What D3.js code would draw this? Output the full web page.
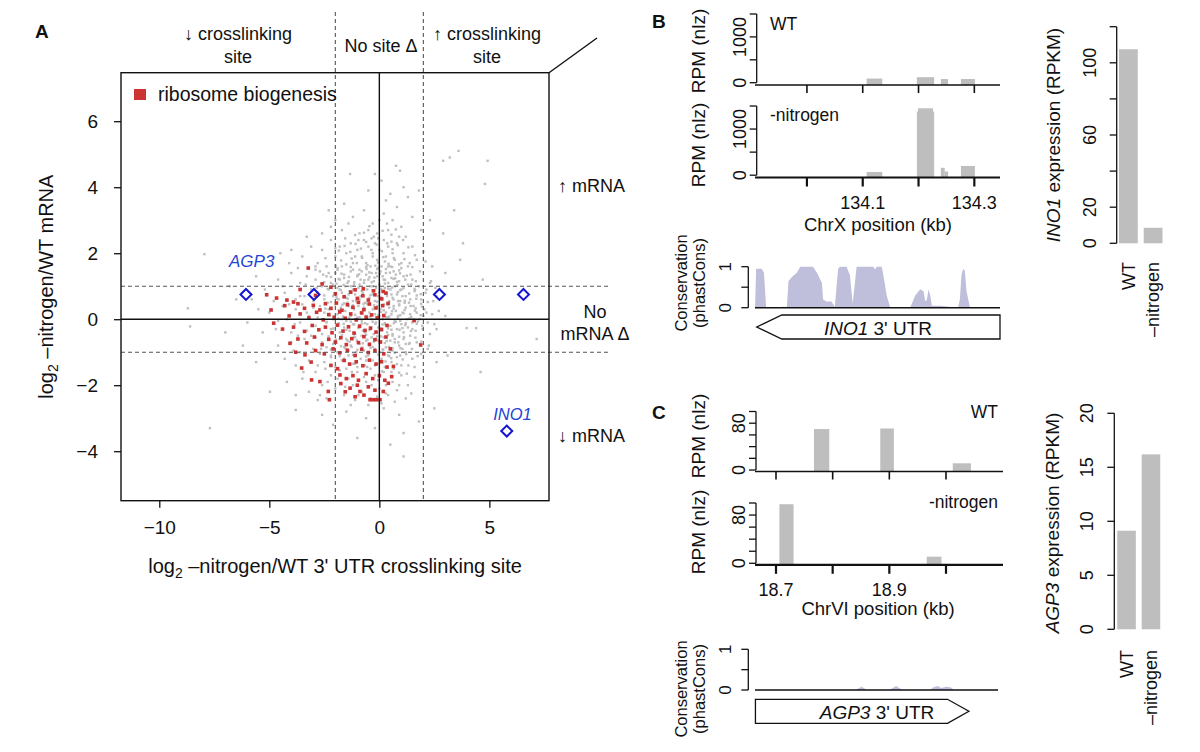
<!DOCTYPE html>
<html><head><meta charset="utf-8">
<script src="https://cdn.jsdelivr.net/npm/d3@7"></script>
<style>
body{margin:0;background:#fff}
svg{display:block}
text{font-family:"Liberation Sans",Arial,Helvetica,sans-serif;fill:#111}
</style>
</head><body>
<svg id="c" width="1200" height="752"></svg>
<script>
// ---------------- DATA ----------------
// Panel A: log2 -nitrogen/WT 3'UTR crosslinking site (x) vs log2 -nitrogen/WT mRNA (y)
const grayPoints = [
[0.76,4.65],[0.94,4.5],[-1.33,4.4],[2.9,4.8],[3.2,4.9],[3.6,5.1],[4.92,4.8],[4.8,4.1],[0.1,4.2],[-0.5,3.9],[0.5,3.8],[1.3,3.7],[-1.6,3.5],[0.3,3.6],[1.8,3.9],[-0.2,4.4],[3.4,3.3],[-2.3,3.3],[1.1,4.0],
[-2.0,3.0],[-1.2,3.1],[-0.7,3.3],[-0.3,2.9],[0.2,3.2],[0.6,3.0],[1.0,2.8],[1.5,3.1],[-1.7,2.7],[-0.9,2.6],[-0.1,2.6],[0.4,2.7],[0.8,3.4],[1.9,2.7],[2.9,2.6],[-2.6,2.6],[-3.3,2.5],[-1.4,2.9],[0.0,3.0],[-0.5,2.7],[1.2,2.5],[2.3,3.0],[-2.2,2.8],
[-3.5,1.9],[-3.1,2.2],[-2.8,1.7],[-2.6,2.1],[-2.4,1.6],[-2.2,2.4],[-2.0,1.9],[-1.8,2.2],[-1.7,1.6],[-1.5,2.0],[-1.3,2.3],[-1.2,1.7],[-1.0,2.1],[-0.9,1.5],[-0.8,1.9],[-0.7,2.4],[-0.6,1.7],[-0.5,2.2],[-0.4,1.6],[-0.3,2.0],[-0.2,2.3],[-0.1,1.8],[0.0,2.1],[0.1,1.6],[0.2,2.4],[0.3,1.9],[0.4,2.2],[0.5,1.6],[0.6,2.0],[0.7,1.8],[0.8,2.3],[1.0,1.7],[1.1,2.0],[1.3,1.6],[1.5,2.2],[1.7,1.8],[2.1,1.75],[2.4,1.6],[3.67,1.8],[3.8,2.3],[-4.1,1.7],[-1.9,1.5],[-1.1,1.9],[-0.35,2.45],[0.25,1.75],[0.9,2.5],[-2.9,1.5],[-0.05,1.55],[0.55,2.35],[-1.55,2.45],[-4.5,2.0],[-7.95,1.97],
[-4.6,1.2],[-4.3,0.8],[-4.0,1.4],[-3.8,0.6],[-3.6,1.1],[-3.4,0.7],[-3.3,1.3],[-3.1,0.9],[-3.0,0.55],[-2.9,1.2],[-2.8,0.8],[-2.7,1.45],[-2.6,1.0],[-2.5,0.6],[-2.4,1.3],[-2.3,0.9],[-2.2,1.1],[-2.1,0.7],[-2.0,1.4],[-1.9,0.95],[-1.85,0.6],[-1.8,1.2],[-1.7,0.8],[-1.6,1.35],[-1.55,1.0],[-1.5,0.65],[-1.4,1.15],[-1.35,0.85],[-1.3,1.45],[-1.2,0.55],[-1.15,1.05],[-1.1,0.75],[-1.0,1.3],[-0.95,0.95],[-0.9,0.6],[-0.85,1.2],[-0.8,1.45],[-0.75,0.8],[-0.7,1.1],[-0.65,0.5],[-0.6,1.35],[-0.55,0.9],[-0.5,1.2],[-0.45,0.65],[-0.4,1.0],[-0.35,1.4],[-0.3,0.75],[-0.25,1.15],[-0.2,0.55],[-0.15,0.95],[-0.1,1.3],[-0.05,0.7],[0.0,1.05],[0.05,1.45],[0.1,0.85],[0.15,0.6],[0.2,1.2],[0.25,0.95],[0.3,1.4],[0.35,0.7],[0.4,1.1],[0.45,0.55],[0.5,0.9],[0.55,1.25],[0.6,0.65],[0.7,1.0],[0.75,1.35],[0.8,0.75],[0.9,1.15],[0.95,0.55],[1.0,0.9],[1.1,1.3],[1.2,0.7],[1.3,1.05],[1.4,0.6],[1.5,1.2],[1.6,0.85],[1.8,1.0],[1.9,0.6],[2.1,0.8],[2.3,1.1],[2.6,0.7],[3.0,1.4],[4.7,1.2],[-5.2,0.9],[-5.6,1.3],[-6.5,0.6],[-0.15,1.4],[-1.45,0.5],[0.65,1.45],[-2.35,0.5],[1.15,0.5],
[-5.0,0.2],[-4.7,-0.3],[-4.4,0.4],[-4.2,0.0],[-4.0,-0.4],[-3.8,0.3],[-3.6,-0.1],[-3.5,0.45],[-3.3,-0.35],[-3.2,0.1],[-3.0,0.35],[-2.9,-0.2],[-2.8,0.05],[-2.7,0.4],[-2.6,-0.45],[-2.5,0.2],[-2.4,-0.1],[-2.3,0.3],[-2.2,-0.3],[-2.1,0.0],[-2.0,0.45],[-1.95,-0.2],[-1.9,0.15],[-1.8,-0.4],[-1.75,0.35],[-1.7,0.0],[-1.6,-0.25],[-1.55,0.25],[-1.5,-0.05],[-1.4,0.4],[-1.35,-0.35],[-1.3,0.1],[-1.2,-0.15],[-1.15,0.3],[-1.1,-0.45],[-1.0,0.05],[-0.95,0.4],[-0.9,-0.25],[-0.85,0.2],[-0.8,-0.05],[-0.7,0.35],[-0.65,-0.4],[-0.6,0.1],[-0.55,-0.15],[-0.5,0.45],[-0.45,0.2],[-0.4,-0.3],[-0.35,0.0],[-0.3,0.3],[-0.25,-0.45],[-0.2,0.15],[-0.15,-0.1],[-0.1,0.4],[-0.05,-0.25],[0.0,0.1],[0.05,0.3],[0.1,-0.35],[0.15,0.0],[0.2,0.45],[0.25,-0.15],[0.3,0.2],[0.35,-0.4],[0.4,0.05],[0.45,0.35],[0.5,-0.2],[0.55,0.15],[0.6,-0.45],[0.65,0.4],[0.7,-0.05],[0.75,0.25],[0.8,-0.3],[0.85,0.1],[0.9,0.45],[1.0,-0.15],[1.05,0.2],[1.1,-0.4],[1.2,0.35],[1.25,0.0],[1.3,-0.25],[1.4,0.15],[1.5,-0.1],[1.55,0.4],[1.65,-0.35],[1.7,0.2],[1.85,0.0],[1.95,-0.2],[2.05,0.3],[2.2,-0.1],[2.4,0.15],[2.6,-0.3],[3.0,0.1],[3.97,-0.27],[4.4,-0.27],[7.15,-0.6],[-8.7,0.33],[-8.6,-0.22],[-6.0,-0.1],[-5.5,0.3],[-7.0,-0.4],[-0.75,-0.35],[0.95,-0.05],
[-4.6,-0.8],[-4.3,-1.2],[-4.0,-0.7],[-3.8,-1.4],[-3.6,-1.0],[-3.4,-0.6],[-3.2,-1.25],[-3.0,-0.9],[-2.9,-0.55],[-2.8,-1.4],[-2.7,-1.05],[-2.6,-0.7],[-2.5,-1.3],[-2.4,-0.85],[-2.3,-0.55],[-2.2,-1.15],[-2.1,-0.75],[-2.0,-1.45],[-1.9,-1.0],[-1.8,-0.6],[-1.7,-1.25],[-1.6,-0.85],[-1.5,-1.5],[-1.45,-0.65],[-1.4,-1.1],[-1.3,-0.8],[-1.2,-1.35],[-1.1,-0.55],[-1.05,-1.0],[-1.0,-1.45],[-0.9,-0.75],[-0.85,-1.2],[-0.8,-0.5],[-0.7,-0.95],[-0.65,-1.4],[-0.6,-0.65],[-0.5,-1.1],[-0.45,-0.8],[-0.4,-1.5],[-0.35,-0.55],[-0.3,-1.25],[-0.2,-0.9],[-0.15,-0.6],[-0.1,-1.35],[0.0,-1.0],[0.05,-0.7],[0.1,-1.2],[0.2,-0.55],[0.25,-1.45],[0.3,-0.85],[0.4,-1.1],[0.5,-0.65],[0.55,-1.3],[0.6,-0.95],[0.7,-0.6],[0.8,-1.15],[0.9,-0.8],[1.0,-1.4],[1.1,-0.6],[1.2,-1.0],[1.35,-0.75],[1.5,-1.2],[1.7,-0.7],[1.9,-1.05],[2.2,-0.9],[2.6,-1.3],[3.1,-1.1],[-5.0,-1.0],[-5.6,-1.3],[-6.2,-0.8],[4.6,-1.6],[-0.55,-1.45],[0.65,-1.5],[-2.45,-1.5],[-3.7,-0.5],[1.6,-1.45],
[-3.5,-1.8],[-3.2,-2.2],[-2.9,-1.6],[-2.6,-2.0],[-2.4,-2.4],[-2.2,-1.7],[-2.0,-2.1],[-1.8,-1.55],[-1.6,-2.3],[-1.4,-1.8],[-1.2,-2.0],[-1.0,-1.6],[-0.8,-2.2],[-0.6,-1.9],[-0.4,-2.4],[-0.2,-1.7],[0.0,-2.1],[0.2,-1.6],[0.4,-2.3],[0.6,-1.9],[0.8,-2.15],[1.0,-1.7],[1.3,-2.0],[1.6,-1.75],[-4.97,-2.2],[-4.2,-1.9],[-1.1,-2.45],[0.3,-2.0],[-0.1,-2.35],[1.2,-2.4],[-2.8,-2.45],[-3.8,-2.3],
[-3.8,-2.75],[-1.5,-2.8],[-0.6,-3.0],[0.2,-2.7],[0.9,-2.9],[1.1,-3.45],[1.1,-4.16],[-0.2,-3.3],[-7.7,-3.3],[-2.1,-3.2],[2.5,-2.7],[-1.0,-3.6],[0.5,-3.8],[-2.6,-2.9],[1.8,-3.1]
];
const grayCorePoints = [
[-1.9,1.55],[-1.2,1.5],[-0.6,1.58],[-0.1,1.52],[0.4,1.6],[0.9,1.48],
[-2.2,1.28],[-1.6,1.25],[-1.0,1.33],[-0.45,1.27],[0.15,1.3],[0.65,1.22],[1.25,1.32],
[-2.5,1.12],[-1.95,1.08],[-1.45,1.1],[-0.9,1.05],[-0.35,1.12],[0.25,1.08],[0.8,1.13],[1.45,1.05],
[-2.35,0.92],[-1.75,0.88],[-1.2,0.9],[-0.7,0.95],[-0.2,0.87],[0.4,0.93],[0.95,0.88],[1.6,0.92],
[-2.5,0.72],[-1.95,0.68],[-1.4,0.75],[-0.85,0.7],[-0.4,0.73],[0.05,0.68],[0.55,0.75],[1.05,0.7],[1.7,0.72],
[-2.2,0.52],[-1.6,0.48],[-1.05,0.55],[-0.55,0.47],[-0.1,0.53],[0.35,0.48],[0.85,0.55],[1.35,0.5],[1.9,0.47],
[-2.45,0.32],[-1.85,0.28],[-1.25,0.35],[-0.75,0.27],[-0.25,0.33],[0.2,0.27],[0.65,0.32],[1.15,0.28],[1.65,0.33],
[-2.25,0.12],[-1.65,0.08],[-1.1,0.13],[-0.55,0.07],[-0.05,0.12],[0.45,0.08],[0.95,0.12],[1.45,0.07],[2.0,0.1],
[-2.4,-0.08],[-1.85,-0.12],[-1.3,-0.07],[-0.8,-0.13],[-0.3,-0.08],[0.25,-0.12],[0.75,-0.08],[1.2,-0.12],[1.75,-0.07],
[-2.1,-0.28],[-1.5,-0.32],[-0.95,-0.27],[-0.45,-0.33],[0.05,-0.28],[0.55,-0.32],[1.05,-0.27],[1.5,-0.3],
[-2.3,-0.52],[-1.7,-0.48],[-1.15,-0.53],[-0.6,-0.47],[-0.1,-0.52],[0.4,-0.48],[0.9,-0.53],[1.4,-0.5],
[-1.95,-0.72],[-1.35,-0.68],[-0.75,-0.73],[-0.25,-0.68],[0.25,-0.72],[0.7,-0.7],[1.2,-0.75],
[-2.2,-0.92],[-1.55,-0.88],[-1.0,-0.93],[-0.4,-0.87],[0.15,-0.92],[0.6,-0.88],[1.05,-0.9],
[-1.8,-1.12],[-1.2,-1.08],[-0.6,-1.13],[-0.05,-1.07],[0.45,-1.12],[0.95,-1.1]
];
const grayExtraPoints = [
[-2.1,1.05],[-1.85,1.22],[-1.62,1.04],[-1.38,1.28],[-1.14,1.12],[-0.92,1.36],[-0.68,1.18],[-0.46,1.42],[-0.22,1.26],[0.02,1.38],[0.26,1.19],[0.48,1.41],[0.72,1.24],[0.94,1.39],[1.18,1.2],[1.42,1.35],[1.66,1.15],
[-1.98,1.62],[-1.74,1.78],[-1.5,1.66],[-1.26,1.84],[-1.02,1.7],[-0.78,1.86],[-0.54,1.64],[-0.3,1.9],[-0.06,1.72],[0.18,1.88],[0.42,1.68],[0.66,1.85],[0.9,1.66],[1.14,1.82],[1.38,1.7],[1.62,1.94],
[-1.84,2.08],[-1.58,2.22],[-1.32,2.04],[-1.08,2.28],[-0.84,2.14],[-0.6,2.34],[-0.36,2.1],[-0.12,2.26],[0.12,2.06],[0.36,2.3],[0.6,2.12],[0.84,2.24],[1.08,2.4],[1.32,2.18],
[-1.1,2.55],[-0.7,2.62],[-0.25,2.5],[0.15,2.68],[0.55,2.56],[-0.45,2.82],[0.35,2.9],[-0.05,2.45],[-0.95,2.4],[0.75,2.72],
[-2.3,1.4],[-2.45,1.85],[-2.0,2.15],[1.85,1.45],[2.0,2.05],[-1.72,1.38],[-0.58,1.52],[0.58,1.58],[1.5,1.58],[-0.18,1.62],[0.82,1.04],[-1.3,1.58],
[0.08,0.92],[0.32,0.8],[0.58,0.96],[0.84,0.82],[1.1,0.94],[1.36,0.78],[1.62,0.88],[1.88,0.76],[2.14,0.9],
[0.12,0.58],[0.38,0.44],[0.64,0.6],[0.9,0.42],[1.16,0.56],[1.42,0.4],[1.68,0.62],[1.94,0.38],[2.2,0.52],
[0.06,0.22],[0.32,0.06],[0.58,0.24],[0.84,0.04],[1.1,0.18],[1.36,0.02],[1.62,0.26],[1.88,0.12],[2.14,0.2],
[0.14,-0.16],[0.4,-0.28],[0.66,-0.12],[0.92,-0.32],[1.18,-0.18],[1.44,-0.36],[1.7,-0.14],[1.96,-0.3],[2.3,-0.45],
[0.08,-0.52],[0.34,-0.66],[0.6,-0.5],[0.86,-0.7],[1.12,-0.54],[1.38,-0.72],[1.64,-0.56],[1.9,-0.68],
[0.18,-0.92],[0.44,-0.84],[0.7,-1.02],[0.96,-0.88],[1.22,-1.06],[1.48,-0.9],[1.74,-1.12],
[0.28,-1.28],[0.54,-1.18],[0.8,-1.36],[1.06,-1.22],[1.32,-1.4],[0.12,-1.58],[0.9,-1.62],
[2.45,0.55],[2.5,-0.15],[2.35,1.15],[2.7,0.25],[2.25,-0.8],[2.55,0.95],[1.0,1.55],[0.3,1.52],
[-1.92,0.62],[-1.68,0.44],[-1.44,0.62],[-1.2,0.42],[-0.96,0.64],[-0.72,0.46],[-0.48,0.62],[-0.24,0.42],
[-1.86,0.02],[-1.62,-0.14],[-1.38,0.04],[-1.14,-0.16],[-0.9,0.06],[-0.66,-0.12],[-0.42,0.08],[-0.18,-0.14],
[-1.98,-0.62],[-1.74,-0.82],[-1.5,-0.6],[-1.26,-0.84],[-1.02,-0.64],[-0.78,-0.86],[-0.54,-0.62],[-0.3,-0.84],[-0.06,-0.64],
[-1.8,0.9],[-1.3,1.0],[-0.8,0.85],[-0.3,1.0],[0.0,0.8],
[-1.6,-1.2],[-1.1,-1.35],[-0.6,-1.25],[-0.2,-1.4],[-2.2,-1.1],
[-4.4,1.0],[-4.1,0.45],[-3.85,-0.15],[-3.6,0.7],[-3.35,1.05],[-3.1,-0.5],[-2.85,0.95],[-2.65,-0.9],[-4.8,0.55],[-5.3,-0.4],[-3.9,-0.95],[-3.3,0.2],[-2.9,1.6],[-2.55,1.35],[-4.6,-0.05],[-3.45,-1.6],[-5.8,0.6],[-6.8,1.0],[-4.0,2.1],[-3.7,1.55],
[-1.9,-1.8],[-1.55,-2.05],[-1.25,-1.6],[-0.95,-2.3],[-0.7,-1.75],[-0.35,-2.0],[-0.05,-1.85],[0.3,-2.25],[0.55,-1.6],[0.9,-2.0],[1.25,-1.65],[-2.35,-1.9],[-2.7,-2.3],[-0.5,-2.6],[0.1,-2.55],[-1.3,-2.6],[0.7,-2.5],[1.45,-2.25]
];
const riboPoints = [
[-3.23,1.55],[-2.6,1.07],[-1.1,0.89],[-0.73,0.92],[-0.27,0.86],[0.18,0.84],[-3.6,0.9],[-2.2,0.97],
[-5.12,0.74],[-4.67,0.64],[-4.2,0.58],[-3.9,0.52],[-2.9,0.72],[-2.0,0.77],[-1.6,0.68],[-1.3,0.82],[-1.0,0.63],[-0.75,0.71],[-0.5,0.58],[-0.2,0.74],[0.1,0.62],[0.3,0.79],
[-4.92,0.28],[-4.3,0.41],[-3.7,0.47],[-3.4,0.33],[-3.0,0.42],[-2.7,0.28],[-2.45,0.47],[-2.2,0.33],[-1.95,0.49],[-1.7,0.27],[-1.45,0.44],[-1.2,0.36],[-0.95,0.51],[-0.7,0.29],[-0.45,0.46],[-0.15,0.34],[0.15,0.41],[0.4,0.48],
[-4.8,-0.12],[-4.1,0.1],[-3.6,0.16],[-3.2,0.04],[-2.85,0.21],[-2.55,-0.02],[-2.3,0.14],[-2.05,0.06],[-1.8,0.22],[-1.55,0.03],[-1.3,0.16],[-1.05,-0.02],[-0.8,0.19],[-0.6,0.06],[-0.35,0.13],[-0.1,0.04],[0.2,0.11],[1.58,-0.04],
[-4.4,-0.3],[-3.9,-0.24],[-3.4,-0.37],[-3.05,-0.19],[-2.75,-0.32],[-2.45,-0.24],[-2.15,-0.41],[-1.9,-0.18],[-1.65,-0.36],[-1.4,-0.23],[-1.15,-0.42],[-0.9,-0.21],[-0.65,-0.34],[-0.4,-0.27],[-0.15,-0.39],[0.1,-0.31],[0.35,-0.19],
[-4.06,-0.73],[-3.7,-0.6],[-3.3,-0.72],[-2.95,-0.54],[-2.6,-0.77],[-2.3,-0.61],[-2.0,-0.69],[-1.75,-0.56],[-1.5,-0.77],[-1.25,-0.59],[-0.95,-0.71],[-0.7,-0.53],[-0.45,-0.76],[-0.2,-0.62],[0.05,-0.69],[0.3,-0.54],[1.88,-0.78],
[-3.8,-1.0],[-3.38,-1.08],[-2.9,-0.95],[-2.5,-1.05],[-2.1,-0.9],[-1.8,-1.02],[-1.45,-0.94],[-1.1,-1.1],[-0.8,-0.91],[-0.5,-1.01],[-0.2,-0.95],[0.2,-1.05],[0.5,-0.9],
[-3.53,-1.48],[-3.1,-1.3],[-2.2,-1.4],[-1.6,-1.25],[-1.35,-1.36],[-1.05,-1.29],[-0.75,-1.41],[-0.45,-1.24],[-0.15,-1.36],[0.1,-1.29],[0.35,-1.45],[0.64,-1.43],[-1.9,-1.5],
[-3.08,-1.84],[-2.7,-1.89],[-1.79,-1.69],[-1.5,-1.8],[-1.2,-1.71],[-0.95,-1.85],[-0.6,-1.65],[-0.3,-1.8],[0.0,-1.71],[0.25,-1.85],[0.56,-1.74],
[-2.32,-2.19],[-1.75,-1.95],[-1.33,-2.09],[-1.0,-2.0],[-0.88,-2.19],[-0.5,-2.05],[-0.2,-2.15],[0.18,-2.19],[0.41,-1.94],[-1.55,-2.2],
[-2.27,-2.44],[-0.42,-2.44],[-0.28,-2.44],[-0.14,-2.44],[0.03,-2.44],[-1.1,-2.35],[-0.7,-2.3]
];
const agp3Sites = [[-6.06,0.75],[-2.97,0.75],[2.73,0.75],[6.55,0.75]];
const ino1Sites = [[5.79,-3.39]];
const xTicksA = [-10,-5,0,5];
const yTicksA = [-4,-2,0,2,4,6];
const siteCut = [-2,2];
const mrnaCut = [-1,1];

// Panel B: INO1 coverage (ChrX, kb) and conservation
const ino1WTStart = [134.107,134.197,134.240,134.276];
const ino1WTEnd   = [134.135,134.228,134.253,134.301];
const ino1WTVal   = [90,120,80,80];
const ino1NStart  = [134.107,134.197,134.199,134.226,134.240,134.247,134.276];
const ino1NEnd    = [134.135,134.199,134.226,134.228,134.247,134.253,134.301];
const ino1NVal    = [70,1380,1450,1380,160,80,200];
const ino1XTicks  = [134.0,134.1,134.2,134.3];
const ino1XLabels = [134.1,134.3];
const rpmTicksB   = [0,500,1000,1500];
const rpmLabelsB  = [0,1000];
const consB = [[133.907,0],[133.909,0.95],[133.919,0.95],[133.923,0.85],[133.927,0],[133.955,0],[133.958,0.03],[133.962,0],[133.964,0],[133.967,0.65],[133.973,0.75],[133.982,0.85],[133.988,1.0],[134.011,1.0],[134.018,0.85],[134.027,0.6],[134.029,0.2],[134.035,0.15],[134.044,0.15],[134.050,0.02],[134.053,0.5],[134.056,0.95],[134.059,1.0],[134.071,1.0],[134.077,0.8],[134.082,0.1],[134.086,0.6],[134.089,1.0],[134.119,1.0],[134.122,0.93],[134.125,1.0],[134.134,1.0],[134.137,0.8],[134.143,0.3],[134.149,0.02],[134.185,0],[134.194,0.3],[134.203,0.45],[134.209,0.4],[134.212,0.15],[134.215,0.2],[134.218,0.45],[134.221,0.3],[134.224,0.05],[134.240,0.05],[134.258,0.02],[134.271,0],[134.274,0.2],[134.277,0.8],[134.280,0.95],[134.283,0.9],[134.286,0.4],[134.292,0.02],[134.346,0]];
const ino1Expr = [107.5, 8.6];
const exprCats = ["WT","–nitrogen"];
const ino1ExprTicks = [0,20,40,60,80,100,120];
const ino1ExprLabels = [0,20,60,100];

// Panel C: AGP3 coverage (ChrVI, kb) and conservation
const agp3WTStart = [18.767,18.884,19.012];
const agp3WTEnd   = [18.794,18.908,19.044];
const agp3WTVal   = [70,71,11.5];
const agp3NStart  = [18.706,18.966];
const agp3NEnd    = [18.731,18.992];
const agp3NVal    = [98,11];
const agp3XTicks  = [18.7,18.8,18.9,19.0];
const agp3XLabels = [18.7,18.9];
const rpmTicksC   = [0,20,40,60,80,100];
const rpmLabelsC  = [0,80];
const consC = [[18.665,0],[18.840,0],[18.846,0.04],[18.851,0.08],[18.857,0.03],[18.862,0],[18.900,0],[18.906,0.05],[18.912,0.1],[18.918,0.04],[18.924,0],[18.972,0],[18.977,0.06],[18.985,0.1],[18.992,0.05],[19.000,0.08],[19.008,0.07],[19.014,0],[19.100,0]];
const agp3Expr = [9.13, 16.2];
const agp3ExprTicks = [0,5,10,15,20];
const consTicks = [0,0.5,1];
const consLabels = [0,1];

// ---------------- DRAW ----------------
const svg = d3.select("#c");
const BLK = "#111";
const GRAYBAR = "#bebebe";
const CONS = "#bfbfdc";

function text(g, x, y, s, opt = {}) {
  const t = g.append("text").attr("x", x).attr("y", y).text(s)
    .attr("font-size", opt.fs || 18).attr("text-anchor", opt.anchor || "start");
  if (opt.italic) t.attr("font-style", "italic");
  if (opt.bold) t.attr("font-weight", "bold");
  if (opt.fill) t.style("fill", opt.fill);
  return t;
}
function rotText(g, cx, cy, fs) {
  return g.append("text").attr("transform", `translate(${cx},${cy}) rotate(-90)`)
    .attr("text-anchor", "middle").attr("dy", "0.35em").attr("font-size", fs);
}
function vAxis(g, scale, x, ticks, labels, labelX, fs) {
  g.append("line").attr("x1", x).attr("x2", x)
    .attr("y1", scale(d3.min(ticks))).attr("y2", scale(d3.max(ticks)))
    .attr("stroke", BLK).attr("stroke-width", 1.3);
  g.append("g").selectAll("line").data(ticks).join("line")
    .attr("x1", x - 7).attr("x2", x).attr("y1", d => scale(d)).attr("y2", d => scale(d))
    .attr("stroke", BLK).attr("stroke-width", 1.3);
  g.append("g").selectAll("text").data(labels).join("text")
    .attr("transform", d => `translate(${labelX},${scale(d)}) rotate(-90)`)
    .attr("text-anchor", "middle").attr("dy", "0.35em").attr("font-size", fs).text(d => d);
}
function hTicks(g, scale, y, ticks, len, sw) {
  g.append("g").selectAll("line").data(ticks).join("line")
    .attr("x1", d => scale(d)).attr("x2", d => scale(d)).attr("y1", y).attr("y2", y + len)
    .attr("stroke", BLK).attr("stroke-width", sw);
}
function bars(g, xs, ys, starts, ends, vals, base) {
  g.append("g").selectAll("rect").data(vals).join("rect")
    .attr("x", (d, i) => xs(starts[i])).attr("width", (d, i) => xs(ends[i]) - xs(starts[i]))
    .attr("y", d => ys(d)).attr("height", d => base - ys(d)).attr("fill", GRAYBAR);
}

// ===== Panel A =====
const gA = svg.append("g");
const xA = d3.scaleLinear().domain([-11.74, 7.71]).range([121, 549]);
const yA = d3.scaleLinear().domain([-5.5, 7.47]).range([500.7, 72.7]);
const [bx0, bx1] = xA.range(), [by0, by1] = [yA.range()[1], yA.range()[0]];

text(gA, 35, 38, "A", {fs: 19, bold: true});

gA.append("g").selectAll("rect").data(grayPoints.concat(grayCorePoints, grayExtraPoints)).join("rect")
  .attr("x", d => xA(d[0]) - 1.2).attr("y", d => yA(d[1]) - 1.2)
  .attr("width", 2.4).attr("height", 2.4).attr("fill", "#bfbfbf");
gA.append("g").selectAll("rect").data(riboPoints).join("rect")
  .attr("x", d => xA(d[0]) - 1.8).attr("y", d => yA(d[1]) - 1.8)
  .attr("width", 3.6).attr("height", 3.6).attr("fill", "#cc3333");

// dashed cut lines
gA.append("g").selectAll("line").data(siteCut).join("line")
  .attr("x1", d => xA(d)).attr("x2", d => xA(d)).attr("y1", 12).attr("y2", by1)
  .attr("stroke", "#555").attr("stroke-width", 1.1).attr("stroke-dasharray", "4,3");
gA.append("g").selectAll("line").data(mrnaCut).join("line")
  .attr("x1", bx0).attr("x2", 610).attr("y1", d => yA(d)).attr("y2", d => yA(d))
  .attr("stroke", "#555").attr("stroke-width", 1.1).attr("stroke-dasharray", "4,3");
// zero lines
gA.append("line").attr("x1", xA(0)).attr("x2", xA(0)).attr("y1", by0).attr("y2", by1).attr("stroke", BLK).attr("stroke-width", 1.4);
gA.append("line").attr("x1", bx0).attr("x2", bx1).attr("y1", yA(0)).attr("y2", yA(0)).attr("stroke", BLK).attr("stroke-width", 1.4);
// box
gA.append("rect").attr("x", bx0).attr("y", by0).attr("width", bx1 - bx0).attr("height", by1 - by0)
  .attr("fill", "none").attr("stroke", BLK).attr("stroke-width", 1.4);
gA.append("line").attr("x1", bx1).attr("y1", by0).attr("x2", 597).attr("y2", 38).attr("stroke", BLK).attr("stroke-width", 1.4);

// diamonds
const diamond = (cx, cy, r) => `M${cx},${cy - r}L${cx + r},${cy}L${cx},${cy + r}L${cx - r},${cy}Z`;
gA.append("g").selectAll("path").data(agp3Sites.concat(ino1Sites)).join("path")
  .attr("d", d => diamond(xA(d[0]), yA(d[1]), 5.5))
  .attr("fill", "none").attr("stroke", "#1414d2").attr("stroke-width", 2);
text(gA, xA(-5.8), yA(1.58), "AGP3", {fs: 17, italic: true, anchor: "middle", fill: "#1f44d6"});
text(gA, xA(6.05), yA(-3.06), "INO1", {fs: 16.5, italic: true, anchor: "middle", fill: "#1f44d6"});

// legend
gA.append("rect").attr("x", 134).attr("y", 89).attr("width", 12).attr("height", 11).attr("fill", "#cc3333");
text(gA, 158, 101, "ribosome biogenesis", {fs: 19.5});

// axes
const axX = gA.append("g").attr("transform", `translate(0,${by1})`)
  .call(d3.axisBottom(xA).tickValues(xTicksA).tickSize(7).tickPadding(13));
const axY = gA.append("g").attr("transform", `translate(${bx0},0)`)
  .call(d3.axisLeft(yA).tickValues(yTicksA).tickSize(7).tickPadding(16));
[axX, axY].forEach(a => {
  a.select(".domain").remove();
  a.attr("font-size", null).attr("font-family", null);
  a.selectAll("line").attr("stroke", BLK).attr("stroke-width", 1.3);
  a.selectAll("text").attr("font-size", 19).style("fill", BLK);
});

// axis titles
const xt = gA.append("text").attr("x", (bx0 + bx1) / 2).attr("y", 573).attr("text-anchor", "middle").attr("font-size", 20);
xt.append("tspan").text("log");
xt.append("tspan").text("2").attr("font-size", 14).attr("dy", 5);
xt.append("tspan").text(" –nitrogen/WT 3' UTR crosslinking site").attr("dy", -5);
const yt = gA.append("text").attr("transform", `translate(53,${(by0 + by1) / 2}) rotate(-90)`)
  .attr("text-anchor", "middle").attr("font-size", 20);
yt.append("tspan").text("log");
yt.append("tspan").text("2").attr("font-size", 14).attr("dy", 5);
yt.append("tspan").text(" –nitrogen/WT mRNA").attr("dy", -5);

// annotations
text(gA, 238, 40, "↓ crosslinking", {fs: 18, anchor: "middle"});
text(gA, 238, 63, "site", {fs: 18, anchor: "middle"});
text(gA, 381, 52, "No site Δ", {fs: 18, anchor: "middle"});
text(gA, 487, 40, "↑ crosslinking", {fs: 18, anchor: "middle"});
text(gA, 487, 63, "site", {fs: 18, anchor: "middle"});
text(gA, 558, 192, "↑ mRNA", {fs: 18});
text(gA, 595, 318, "No", {fs: 18, anchor: "middle"});
text(gA, 595, 340, "mRNA Δ", {fs: 18, anchor: "middle"});
text(gA, 558, 442, "↓ mRNA", {fs: 18});

// ===== Panel B =====
const gB = svg.append("g");
text(gB, 652, 28, "B", {fs: 19, bold: true});
const xB = d3.scaleLinear().domain([133.91, 134.346]).range([756.7, 1000]);
const yBwt = d3.scaleLinear().domain([-50, 1500]).range([85, 14]);
const yBn = d3.scaleLinear().domain([-50, 1500]).range([177.5, 106]);

bars(gB, xB, yBwt, ino1WTStart, ino1WTEnd, ino1WTVal, yBwt(-50));
bars(gB, xB, yBn, ino1NStart, ino1NEnd, ino1NVal, yBn(-50));
gB.append("line").attr("x1", 755).attr("x2", xB.range()[1]).attr("y1", yBwt(-50)).attr("y2", yBwt(-50)).attr("stroke", BLK).attr("stroke-width", 1.5);
gB.append("line").attr("x1", 755).attr("x2", xB.range()[1]).attr("y1", yBn(-50)).attr("y2", yBn(-50)).attr("stroke", BLK).attr("stroke-width", 2.2);
hTicks(gB, xB, yBwt(-50), ino1XTicks, 8, 1.6);
hTicks(gB, xB, yBn(-50), ino1XTicks, 9, 2.2);
vAxis(gB, yBwt, 756.7, rpmTicksB, rpmLabelsB, 740, 18);
vAxis(gB, yBn, 756.7, rpmTicksB, rpmLabelsB, 740, 18);
rotText(gB, 698, 51, 19).text("RPM (nlz)");
rotText(gB, 698, 145, 19).text("RPM (nlz)");
text(gB, 770, 30, "WT", {fs: 17.5});
text(gB, 770, 121, "-nitrogen", {fs: 17.5});
gB.append("g").selectAll("text").data(ino1XLabels).join("text")
  .attr("x", d => xB(d)).attr("y", 209).attr("text-anchor", "middle").attr("font-size", 18).text(d => d);
text(gB, 878, 231, "ChrX position (kb)", {fs: 18.5, anchor: "middle"});

// conservation B
const yBc = d3.scaleLinear().domain([0, 1]).range([307.7, 266.7]);
gB.append("path").datum(consB)
  .attr("d", d3.area().x(d => xB(d[0])).y0(yBc(0)).y1(d => yBc(d[1])))
  .attr("fill", CONS);
gB.append("line").attr("x1", 755).attr("x2", xB.range()[1]).attr("y1", yBc(0)).attr("y2", yBc(0)).attr("stroke", BLK).attr("stroke-width", 1.4);
vAxis(gB, yBc, 748.3, consTicks, consLabels, 725, 17);
rotText(gB, 681, 283, 16.5).text("Conservation");
rotText(gB, 699, 283, 16.5).text("(phastCons)");
const utrB = [[133.91, 327], [133.955, 315], [134.346, 315], [134.346, 339], [133.955, 339]];
gB.append("path").attr("d", "M" + utrB.map(p => `${xB(p[0])},${p[1]}`).join("L") + "Z")
  .attr("fill", "#fff").attr("stroke", BLK).attr("stroke-width", 1.3);
const ub = gB.append("text").attr("x", 878).attr("y", 335).attr("text-anchor", "middle").attr("font-size", 19);
ub.append("tspan").text("INO1").attr("font-style", "italic");
ub.append("tspan").text("  3' UTR");

// INO1 expression bars
const xBar1 = d3.scaleBand().domain(exprCats).range([1117.5, 1164]).paddingInner(0.24).paddingOuter(0.06);
const yI = d3.scaleLinear().domain([0, 120]).range([243.3, 26.7]);
gB.append("g").selectAll("rect").data(ino1Expr).join("rect")
  .attr("x", (d, i) => xBar1(exprCats[i])).attr("width", xBar1.bandwidth())
  .attr("y", d => yI(d)).attr("height", d => yI(0) - yI(d)).attr("fill", GRAYBAR);
vAxis(gB, yI, 1116.7, ino1ExprTicks, ino1ExprLabels, 1090, 18);
gB.append("g").selectAll("text").data(exprCats).join("text")
  .attr("transform", d => `translate(${xBar1(d) + xBar1.bandwidth() / 2},262) rotate(-90)`)
  .attr("text-anchor", "end").attr("dy", "0.35em").attr("font-size", 18).text(d => d);
const il = rotText(gB, 1053, 135, 19);
il.append("tspan").text("INO1").attr("font-style", "italic");
il.append("tspan").text(" expression (RPKM)");

// ===== Panel C =====
const gC = svg.append("g");
text(gC, 652, 419, "C", {fs: 19, bold: true});
const xC = d3.scaleLinear().domain([18.6647, 19.1006]).range([756, 1003]);
const yCwt = d3.scaleLinear().domain([-2.5, 100]).range([471.5, 411.5]);
const yCn = d3.scaleLinear().domain([-2.5, 100]).range([564.8, 503]);
bars(gC, xC, yCwt, agp3WTStart, agp3WTEnd, agp3WTVal, yCwt(-2.5));
bars(gC, xC, yCn, agp3NStart, agp3NEnd, agp3NVal, yCn(-2.5));
gC.append("line").attr("x1", 755).attr("x2", xC.range()[1]).attr("y1", yCwt(-2.5)).attr("y2", yCwt(-2.5)).attr("stroke", BLK).attr("stroke-width", 1.3);
gC.append("line").attr("x1", 755).attr("x2", xC.range()[1]).attr("y1", yCn(-2.5)).attr("y2", yCn(-2.5)).attr("stroke", BLK).attr("stroke-width", 2.2);
hTicks(gC, xC, yCwt(-2.5), agp3XTicks, 8, 1.6);
hTicks(gC, xC, yCn(-2.5), agp3XTicks, 9, 2.2);
vAxis(gC, yCwt, 756, rpmTicksC, rpmLabelsC, 739, 18);
vAxis(gC, yCn, 756, rpmTicksC, rpmLabelsC, 739, 18);
rotText(gC, 698, 436, 19).text("RPM (nlz)");
rotText(gC, 698, 532, 19).text("RPM (nlz)");
text(gC, 998, 418, "WT", {fs: 17.5, anchor: "end"});
text(gC, 998, 508, "-nitrogen", {fs: 17.5, anchor: "end"});
gC.append("g").selectAll("text").data(agp3XLabels).join("text")
  .attr("x", d => xC(d)).attr("y", 596).attr("text-anchor", "middle").attr("font-size", 18).text(d => d);
text(gC, 878, 615, "ChrVI position (kb)", {fs: 18.5, anchor: "middle"});

// conservation C
const yCc = d3.scaleLinear().domain([0, 1]).range([690, 649.3]);
gC.append("path").datum(consC)
  .attr("d", d3.area().x(d => xC(d[0])).y0(yCc(0)).y1(d => yCc(d[1])))
  .attr("fill", CONS);
gC.append("line").attr("x1", 755).attr("x2", 998).attr("y1", yCc(0)).attr("y2", yCc(0)).attr("stroke", BLK).attr("stroke-width", 1.4);
vAxis(gC, yCc, 748.3, consTicks, consLabels, 725, 17);
rotText(gC, 681, 689, 16.5).text("Conservation");
rotText(gC, 699, 689, 16.5).text("(phastCons)");
const utrC = [[18.6637, 699.3], [19.0026, 699.3], [19.0404, 711.3], [19.0026, 723.3], [18.6637, 723.3]];
gC.append("path").attr("d", "M" + utrC.map(p => `${xC(p[0])},${p[1]}`).join("L") + "Z")
  .attr("fill", "#fff").attr("stroke", BLK).attr("stroke-width", 1.3);
const uc = gC.append("text").attr("x", 877).attr("y", 719).attr("text-anchor", "middle").attr("font-size", 19);
uc.append("tspan").text("AGP3").attr("font-style", "italic");
uc.append("tspan").text("  3' UTR");

// AGP3 expression bars
const xBar2 = d3.scaleBand().domain(exprCats).range([1115.8, 1161.7]).paddingInner(0.24).paddingOuter(0.06);
const yAg = d3.scaleLinear().domain([0, 20]).range([629.3, 413.3]);
gC.append("g").selectAll("rect").data(agp3Expr).join("rect")
  .attr("x", (d, i) => xBar2(exprCats[i])).attr("width", xBar2.bandwidth())
  .attr("y", d => yAg(d)).attr("height", d => yAg(0) - yAg(d)).attr("fill", GRAYBAR);
vAxis(gC, yAg, 1114.3, agp3ExprTicks, agp3ExprTicks, 1087, 18);
gC.append("g").selectAll("text").data(exprCats).join("text")
  .attr("transform", d => `translate(${xBar2(d) + xBar2.bandwidth() / 2},650) rotate(-90)`)
  .attr("text-anchor", "end").attr("dy", "0.35em").attr("font-size", 18).text(d => d);
const al = rotText(gC, 1052, 523, 19);
al.append("tspan").text("AGP3").attr("font-style", "italic");
al.append("tspan").text(" expression (RPKM)");
</script>
</body></html>
